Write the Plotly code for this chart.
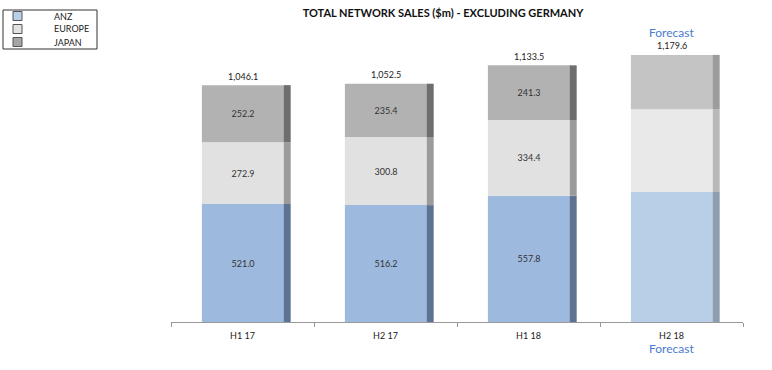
import numpy as np
import plotly.graph_objects as go

categories = ["H1 17", "H2 17", "H1 18", "H2 18"]
anz = [521.0, 516.2, 557.8, 574.0]
europe = [272.9, 300.8, 334.4, 366.0]
japan = [252.2, 235.4, 241.3, 239.6]
totals = [1046.1, 1052.5, 1133.5, 1179.6]
is_forecast = [False, False, False, True]

series_names = ["ANZ", "EUROPE", "JAPAN"]
series_values = [anz, europe, japan]
main_colors = {"ANZ": ("#9DB9DE", "#B9CFE7"), "EUROPE": ("#E1E1E1", "#E9E9E9"), "JAPAN": ("#B2B2B2", "#C4C4C4")}
side_colors = {"ANZ": ("#5E7391", "#8E9DAF"), "EUROPE": ("#9B9B9B", "#B8B8B8"), "JAPAN": ("#6E6E6E", "#9C9C9C")}
legend_colors = {"ANZ": "#B8CFEA", "EUROPE": "#E2E2E2", "JAPAN": "#A6A6A6"}

FONT = "Lato, Carlito, 'Liberation Sans', sans-serif"
W, H = 772, 370
ML, MR, MT, MB = 171, 29, 5, 48
PW, PH = W - ML - MR, H - MT - MB


def px_x(px):
    return (px - ML) / PW


def px_y(py):
    return (H - MB - py) / PH


fig = go.Figure()

base = np.zeros(len(categories))
for name, vals in zip(series_names, series_values):
    vals = np.array(vals)
    mc = [main_colors[name][1] if f else main_colors[name][0] for f in is_forecast]
    sc = [side_colors[name][1] if f else side_colors[name][0] for f in is_forecast]
    txt = ["" if f else f"{v:.1f}" for v, f in zip(vals, is_forecast)]
    fig.add_trace(go.Bar(
        x=categories, y=vals, base=base, name=name,
        width=0.575, offset=-0.284,
        marker=dict(color=mc, line=dict(width=0)),
        text=txt, textposition="inside", insidetextanchor="middle",
        textangle=0, constraintext="none",
        textfont=dict(size=9, color="#333333", family=FONT),
        hoverinfo="skip", showlegend=False,
    ))
    fig.add_trace(go.Bar(
        x=categories, y=vals, base=base, name=name + " side",
        width=0.048, offset=0.289,
        marker=dict(color=sc, line=dict(width=0)),
        hoverinfo="skip", showlegend=False,
    ))
    base = base + vals

# totals above bars
for c, t, f in zip(categories, totals, is_forecast):
    fig.add_annotation(x=c, y=t, yshift=9, text=f"{t:,.1f}", showarrow=False,
                       font=dict(size=9, color="#222222", family=FONT))
    if f:
        fig.add_annotation(x=c, y=t, yshift=22, text="Forecast", showarrow=False,
                           font=dict(size=12, color="#4A7BD0", family=FONT))
        fig.add_annotation(x=c, y=0, yshift=-26, text="Forecast", showarrow=False,
                           font=dict(size=12, color="#4A7BD0", family=FONT))

# manual compact legend (top-left box)
fig.add_shape(type="rect", xref="paper", yref="paper",
              x0=px_x(3), x1=px_x(97), y0=px_y(10), y1=px_y(49),
              line=dict(color="#333333", width=1), fillcolor="white", layer="above")
for i, name in enumerate(series_names):
    cy = 16 + i * 13
    fig.add_shape(type="rect", xref="paper", yref="paper",
                  x0=px_x(13), x1=px_x(22), y0=px_y(cy - 4.5), y1=px_y(cy + 4.5),
                  line=dict(color="#555555", width=1), fillcolor=legend_colors[name], layer="above")
    fig.add_annotation(xref="paper", yref="paper", x=px_x(52), y=px_y(cy),
                       xanchor="left", yanchor="middle", text=name, showarrow=False,
                       font=dict(size=9, color="#222222", family=FONT))

fig.update_layout(
    width=W, height=H,
    margin=dict(l=ML, r=MR, t=MT, b=MB, autoexpand=False),
    barmode="overlay",
    plot_bgcolor="white", paper_bgcolor="white",
    title=dict(text="<b>TOTAL NETWORK SALES ($m) - EXCLUDING GERMANY</b>",
               x=443 / W, xanchor="center", y=1 - 13 / H, yanchor="middle",
               font=dict(size=11, color="#111111", family=FONT)),
    showlegend=False,
    xaxis=dict(type="category", range=[-0.5, 3.5], tickmode="array",
               tickvals=categories, ticktext=categories, tickson="boundaries",
               ticks="outside", ticklen=4, tickcolor="#999999",
               showline=True, linecolor="#999999", linewidth=1, showgrid=False,
               ticklabelstandoff=5,
               tickfont=dict(size=9, color="#222222", family=FONT), automargin=False),
    yaxis=dict(range=[0, 1400], visible=False, showgrid=False),
    font=dict(family=FONT),
)

fig.write_html("out.html", config={"displayModeBar": False},
               post_script="document.body.style.margin='0';")
